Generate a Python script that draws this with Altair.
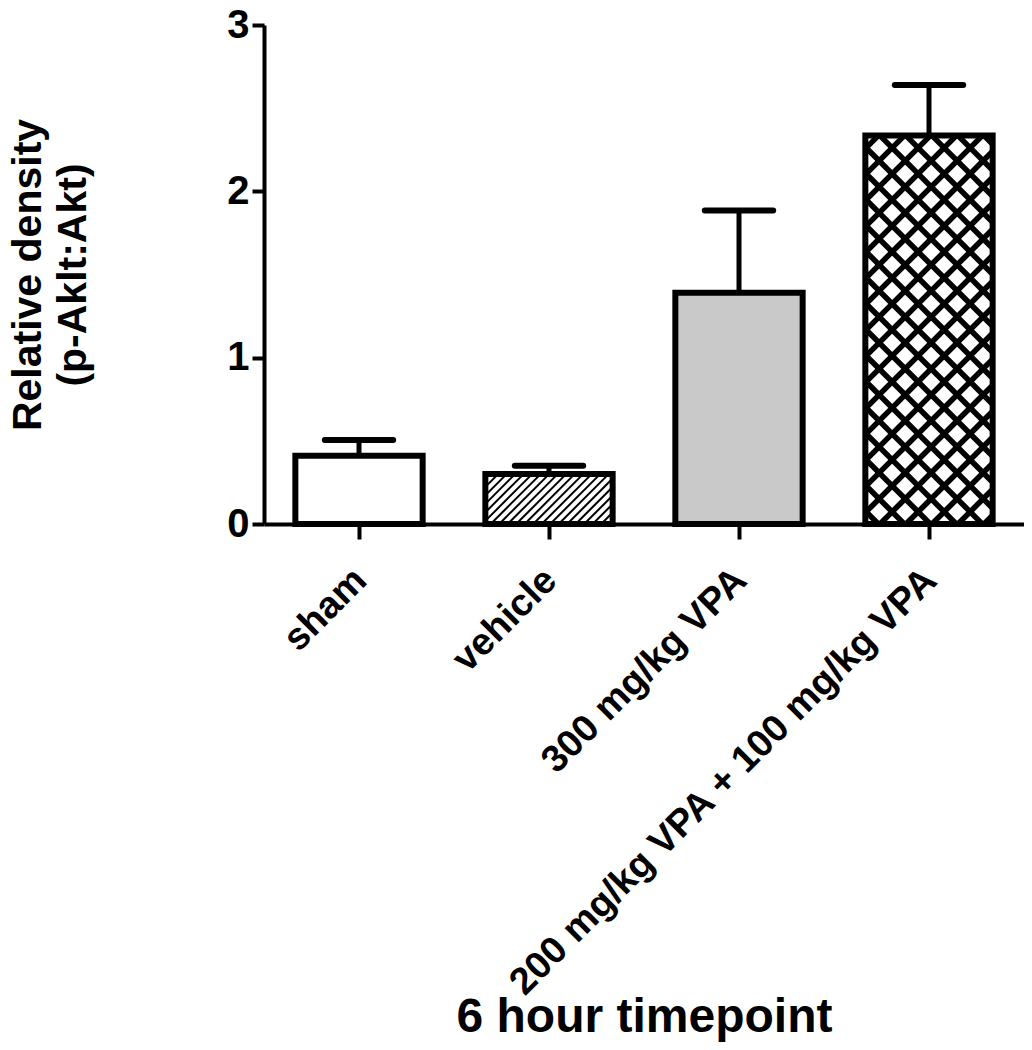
import json
import altair as alt
import pandas as pd

# ---- data ----
categories = ["sham", "vehicle", "300 mg/kg VPA", "200 mg/kg VPA + 100 mg/kg VPA"]
means = [0.41, 0.30, 1.39, 2.335]
errors = [0.095, 0.05, 0.495, 0.305]
fill_styles = ["plain", "hatch", "gray", "crosshatch"]
y_ticks = [0, 1, 2, 3]

# ---- layout / style ----
W, H = 760, 499
XDOM = [-0.5, 3.5]
YDOM = [0, 3]
HALF = 0.335   # half bar width (data units)
CAP = 0.18     # half error cap width
FONT = "Liberation Sans"
fill_colors = {"plain": "white", "hatch": "white", "gray": "#c9c9c9", "crosshatch": "white"}

pos = list(range(len(categories)))
bars = pd.DataFrame({
    "pos": pos,
    "cat": categories,
    "mean": means,
    "top": [m + e for m, e in zip(means, errors)],
    "x0": [p - HALF for p in pos],
    "x1": [p + HALF for p in pos],
    "c0": [p - CAP for p in pos],
    "c1": [p + CAP for p in pos],
    "base": [0.0] * len(pos),
    "fillc": [fill_colors[f] for f in fill_styles],
})

# hatch segments computed from bar geometry
kx = W / (XDOM[1] - XDOM[0])
ky = H / (YDOM[1] - YDOM[0])


def hatch_segments(i, period, direction, width_tag):
    w = 2 * HALF * kx
    h = means[i] * ky
    x0 = pos[i] - HALF
    segs = []
    if direction > 0:  # '/'  y = x - c
        c = -h + (period / 2.0)
        while c < w:
            lo, hi = max(0.0, c), min(w, c + h)
            if hi > lo:
                segs.append((x0 + lo / kx, (lo - c) / ky, x0 + hi / kx, (hi - c) / ky, width_tag))
            c += period
    else:  # '\'  y = c - x
        c = period / 2.0
        while c < w + h:
            lo, hi = max(0.0, c - h), min(w, c)
            if hi > lo:
                segs.append((x0 + lo / kx, (c - lo) / ky, x0 + hi / kx, (c - hi) / ky, width_tag))
            c += period
    return segs


segs = []
for i, st in enumerate(fill_styles):
    if st == "hatch":
        segs += hatch_segments(i, 8.5, +1, "thin")
    elif st == "crosshatch":
        segs += hatch_segments(i, 26, +1, "thick")
        segs += hatch_segments(i, 26, -1, "thick")
hatch = pd.DataFrame(segs, columns=["hx0", "hy0", "hx1", "hy1", "kind"])

label_expr = json.dumps(categories) + "[datum.value]"

xscale = alt.Scale(domain=XDOM, nice=False, zero=False)
yscale = alt.Scale(domain=YDOM, nice=False, zero=False)

x_axis = alt.Axis(
    values=pos, labelExpr=label_expr, title="6 hour timepoint",
    labelAngle=-45, labelAlign="right", labelBaseline="top",
    labelFontSize=38, labelFont=FONT, labelFontWeight="bold", labelColor="black",
    labelPadding=22, labelOffset=-12, labelLimit=0,
    labelOverlap=False, labelFlush=False, labelBound=False,
    tickSize=15, tickWidth=4, tickColor="black",
    domainWidth=4, domainColor="black", grid=False,
    titleFontSize=48, titleFont=FONT, titleFontWeight="bold", titleColor="black",
    titleX=W / 2, titleY=507, titleAlign="center", titleBaseline="alphabetic",
)
y_axis = alt.Axis(
    values=y_ticks, format="d", title=["Relative density", "(p-Aklt:Akt)"],
    labelFontSize=40, labelFont=FONT, labelFontWeight="bold", labelColor="black",
    labelPadding=3, tickSize=12, tickWidth=4, tickColor="black",
    domainWidth=4, domainColor="black", grid=False,
    titleFontSize=41, titleFont=FONT, titleFontWeight="bold", titleColor="black",
    titleX=-215, titleY=H / 2, titleAlign="center", titleAngle=-90,
    titleBaseline="bottom", titleLineHeight=45,
)

base = alt.Chart(bars)

fill_layer = base.mark_rect().encode(
    x=alt.X("x0:Q", scale=xscale, axis=x_axis),
    x2="x1:Q",
    y=alt.Y("mean:Q", scale=yscale, axis=y_axis),
    y2="base:Q",
    fill=alt.Fill("fillc:N", scale=None),
)

hatch_layer = alt.Chart(hatch).mark_rule(color="black", strokeCap="butt").encode(
    x=alt.X("hx0:Q", scale=xscale, axis=x_axis),
    x2="hx1:Q",
    y=alt.Y("hy0:Q", scale=yscale, axis=y_axis),
    y2="hy1:Q",
    strokeWidth=alt.StrokeWidth("kind:N", scale=alt.Scale(domain=["thin", "thick"], range=[2, 5.5]), legend=None),
)

stem_layer = base.mark_rule(color="black", strokeWidth=5).encode(
    x=alt.X("pos:Q", scale=xscale, axis=x_axis),
    y=alt.Y("mean:Q", scale=yscale, axis=y_axis),
    y2="top:Q",
)

cap_layer = base.mark_rule(color="black", strokeWidth=6, strokeCap="round").encode(
    x=alt.X("c0:Q", scale=xscale, axis=x_axis),
    x2="c1:Q",
    y=alt.Y("top:Q", scale=yscale, axis=y_axis),
)

outline_layer = base.mark_rect(fillOpacity=0, stroke="black", strokeWidth=6).encode(
    x=alt.X("x0:Q", scale=xscale, axis=x_axis),
    x2="x1:Q",
    y=alt.Y("mean:Q", scale=yscale, axis=y_axis),
    y2="base:Q",
)

chart = alt.layer(fill_layer, hatch_layer, stem_layer, cap_layer, outline_layer).properties(
    width=W, height=H,
    autosize=alt.AutoSizeParams(type="none"),
    padding={"left": 256, "top": 17, "right": 0, "bottom": 518},
    background="white",
).configure_view(strokeWidth=0)

chart.save("out.html", embed_options={"renderer": "svg", "actions": False})
